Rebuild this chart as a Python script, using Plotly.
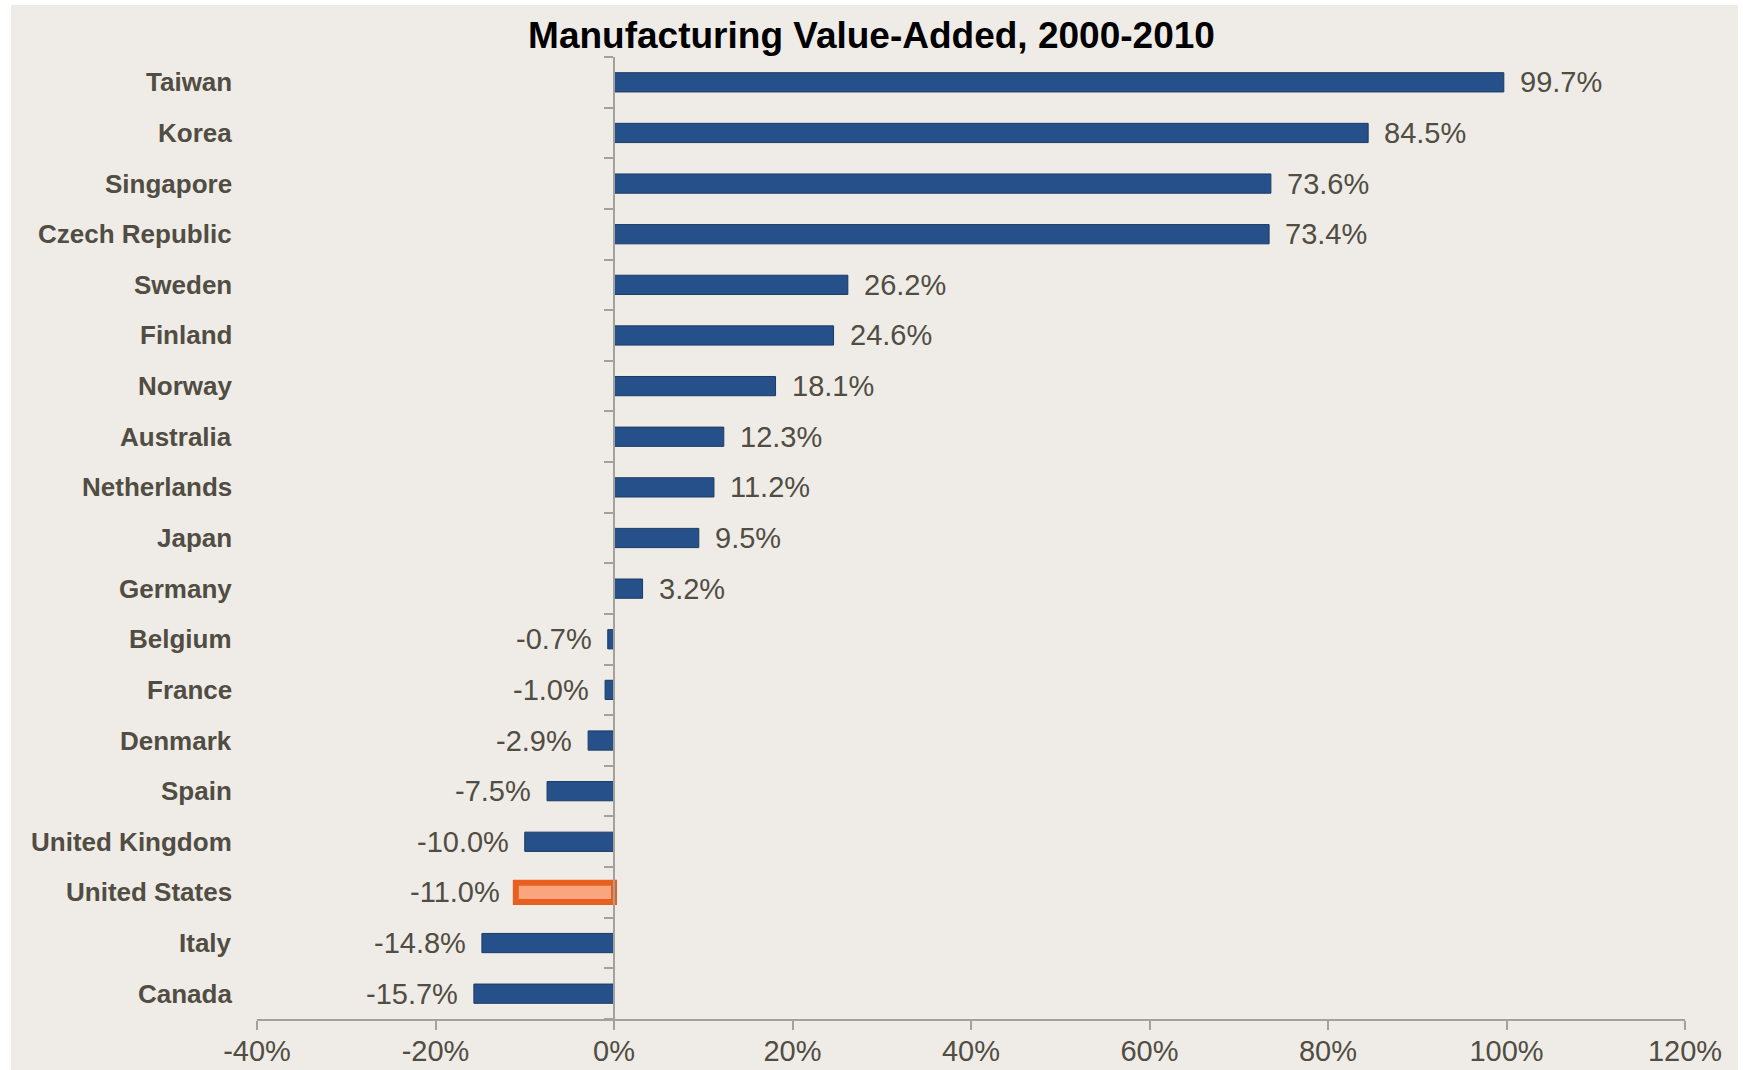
import plotly.graph_objects as go

# Manufacturing value-added growth, 2000-2010 (percent)
countries = ["Taiwan", "Korea", "Singapore", "Czech Republic", "Sweden", "Finland",
             "Norway", "Australia", "Netherlands", "Japan", "Germany", "Belgium",
             "France", "Denmark", "Spain", "United Kingdom", "United States",
             "Italy", "Canada"]
growth = [99.7, 84.5, 73.6, 73.4, 26.2, 24.6, 18.1, 12.3, 11.2, 9.5, 3.2, -0.7,
          -1.0, -2.9, -7.5, -10.0, -11.0, -14.8, -15.7]
highlight = "United States"

x_ticks = [-40, -20, 0, 20, 40, 60, 80, 100, 120]
x_tick_labels = [f"{v}%" for v in x_ticks]

# bottom-to-top order for the category axis
order = countries[::-1]

W, H = 1743, 1070
L, R, T, B = 257, 58, 57, 51
pw, ph = W - L - R, H - T - B

BEIGE = "#EFECE7"
BLUE = "#26508A"
BLUE_EDGE = "#1C3A63"
TEXT = "#514D43"
AXIS = "#A3A19C"
SANS = "Liberation Sans, Arial, sans-serif"
NARROW = "Liberation Sans Narrow, Arial Narrow, Liberation Sans, Arial, sans-serif"


def px_x(x):
    return (x - L) / pw


def px_y(y):
    return (H - B - y) / ph


fill = ["#FBA57F" if c == highlight else BLUE for c in countries]
edge = ["#E8601F" if c == highlight else BLUE_EDGE for c in countries]
edge_w = [6 if c == highlight else 1 for c in countries]

fig = go.Figure()
fig.add_trace(go.Bar(
    x=growth, y=countries, orientation="h",
    marker=dict(color=fill, line=dict(color=edge, width=edge_w)),
    hoverinfo="skip",
))

annotations = []
for c, v in zip(countries, growth):
    # value label beside each bar
    annotations.append(dict(
        x=v, y=c, xref="x", yref="y", text=f"{v:.1f}%", showarrow=False,
        xanchor="left" if v >= 0 else "right", xshift=14 if v >= 0 else -14,
        font=dict(family=SANS, size=29, color=TEXT),
    ))
    # country name at the left edge
    annotations.append(dict(
        x=px_x(234), y=c, xref="paper", yref="y", text=c, showarrow=False,
        xanchor="right",
        font=dict(family=NARROW, size=26, color=TEXT, weight="bold"),
    ))

fig.update_layout(
    width=W, height=H,
    margin=dict(l=L, r=R, t=T, b=B, pad=0, autoexpand=False),
    paper_bgcolor="white",
    plot_bgcolor="rgba(0,0,0,0)",
    showlegend=False,
    bargap=0.62,
    title=dict(
        text="<b>Manufacturing Value-Added, 2000-2010</b>",
        x=0.5, xanchor="center", xref="container",
        y=1 - 35 / H, yanchor="middle", yref="container",
        font=dict(family=SANS, size=37, color="black"),
    ),
    xaxis=dict(
        range=[-40, 120], tickvals=x_ticks, ticktext=x_tick_labels,
        showgrid=False, zeroline=False, automargin=False,
        showline=True, linecolor=AXIS, linewidth=2,
        ticks="outside", ticklen=9, tickwidth=2, tickcolor=AXIS,
        ticklabelstandoff=-4,
        tickfont=dict(family=SANS, size=29, color=TEXT),
    ),
    yaxis=dict(
        type="category", categoryorder="array", categoryarray=order,
        range=[-0.5, len(order) - 0.5], automargin=False,
        anchor="free", position=0.25, side="left",
        showline=True, linecolor=AXIS, linewidth=2,
        ticks="outside", tickson="boundaries", ticklen=9, tickwidth=2, tickcolor=AXIS,
        showticklabels=False, showgrid=False, zeroline=False,
    ),
    annotations=annotations,
    shapes=[dict(
        type="rect", xref="paper", yref="paper", layer="below",
        x0=px_x(11), x1=px_x(1738), y0=px_y(5), y1=px_y(H),
        fillcolor=BEIGE, line=dict(width=0),
    )],
)

fig.write_html("out.html")
